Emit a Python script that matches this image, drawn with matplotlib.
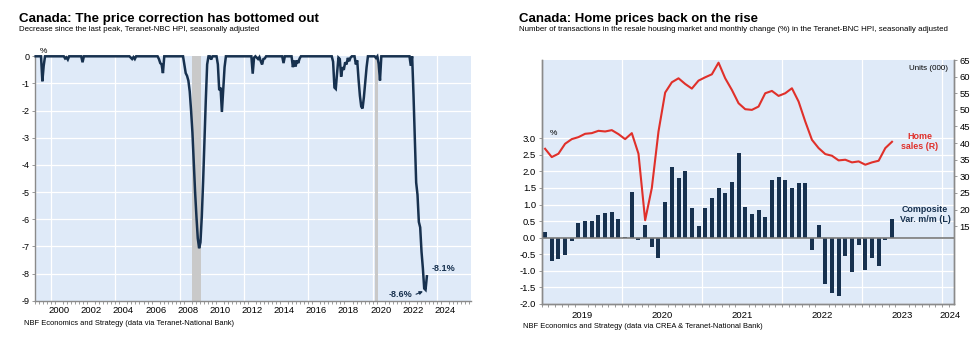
import matplotlib
matplotlib.use("Agg")
import matplotlib.pyplot as plt
import numpy as np

plt.rcParams["font.family"] = ["Liberation Sans", "DejaVu Sans"]

# ---- left chart: decrease since last peak (%), monthly Jan 1999 - May 2023
peak_drop = [
    [0, 0, 0, 0, 0, -0.92, -0.35, 0, 0, 0, 0, 0],                        # 1999
    [0, 0, 0, 0, 0, 0, 0, 0, 0, 0, -0.08, -0.04],                         # 2000
    [-0.12, 0, 0, 0, 0, 0, 0, 0, 0, 0, 0, -0.22],                         # 2001
    [0, 0, 0, 0, 0, 0, 0, 0, 0, 0, 0, 0],                                 # 2002
    [0, 0, 0, 0, 0, 0, 0, 0, 0, 0, 0, 0],                                 # 2003
    [0, 0, 0, 0, 0, 0, 0, 0, 0, 0, 0, -0.05],                             # 2004
    [-0.1, -0.03, -0.1, 0, 0, 0, 0, 0, 0, 0, 0, 0],                       # 2005
    [0, 0, 0, 0, 0, 0, 0, 0, -0.1, -0.25, -0.3, -0.62],                   # 2006
    [0, 0, 0, 0, 0, 0, 0, 0, 0, 0, 0, 0],                                 # 2007
    [0, 0, 0, -0.3, -0.62, -0.72, -0.9, -1.3, -2.0, -2.8, -3.9, -5.0],    # 2008
    [-5.9, -6.7, -7.07, -6.85, -5.9, -4.6, -3.1, -1.6, -0.3, 0, 0, -0.12],# 2009
    [0, 0, 0, 0, -0.3, -1.25, -1.15, -2.05, -1.2, -0.4, 0, 0],            # 2010
    [0, 0, 0, 0, 0, 0, 0, 0, 0, 0, 0, 0],                                 # 2011
    [0, 0, 0, 0, 0, 0, -0.64, -0.05, 0, -0.05, -0.1, -0.03],              # 2012
    [-0.18, -0.3, -0.1, -0.08, 0, 0, 0, 0, 0, 0, 0, 0],                   # 2013
    [0, 0, 0, 0, 0, -0.25, 0, 0, 0, 0, 0, 0],                             # 2014
    [-0.4, -0.15, -0.38, -0.15, -0.25, -0.08, 0, 0, 0, 0, 0, 0],          # 2015
    [0, 0, 0, 0, 0, 0, 0, 0, 0, 0, 0, 0],                                 # 2016
    [0, 0, 0, 0, 0, 0, -0.2, -1.15, -1.2, -0.6, -0.05, -0.1],             # 2017
    [-0.75, -0.4, -0.5, -0.22, -0.3, -0.06, -0.18, -0.05, 0, 0, 0, -0.3], # 2018
    [-0.15, -0.85, -1.45, -1.85, -1.92, -1.5, -0.95, -0.4, 0, 0, 0, 0],   # 2019
    [0, 0, -0.06, 0, -0.28, -0.89, 0, 0, 0, 0, 0, 0],                     # 2020
    [0, 0, 0, 0, 0, 0, 0, 0, 0, 0, 0, 0],                                 # 2021
    [0, 0, 0, 0, -0.35, 0, -1.4, -3.0, -4.65, -5.1, -6.1, -6.3],          # 2022
    [-7.2, -7.8, -8.55, -8.6, -8.1],                                      # 2023
]
recessions = [(2008.75, 2009.35), (2020.12, 2020.32)]

# ---- right chart: monthly Jan 2019 - May 2023
composite_mm = [0.18, -0.71, -0.64, -0.51, -0.11, 0.43, 0.51, 0.49, 0.69, 0.73, 0.79, 0.56,
                0.02, 1.37, -0.06, 0.39, -0.28, -0.61, 1.09, 2.12, 1.80, 2.02, 0.90, 0.35,
                0.90, 1.21, 1.50, 1.36, 1.69, 2.54, 0.93, 0.71, 0.85, 0.63, 1.73, 1.83,
                1.73, 1.50, 1.66, 1.66, -0.37, 0.39, -1.40, -1.67, -1.76, -0.54, -1.03, -0.22,
                -0.97, -0.62, -0.86, -0.08, 0.56]
home_sales = [38.3, 35.8, 36.8, 39.8, 41.2, 41.8, 42.8, 43.0, 43.7, 43.5, 43.9, 42.7,
              41.2, 43.0, 36.8, 16.8, 26.5, 43.5, 55.2, 58.3, 59.5, 57.8, 56.4, 58.8,
              59.8, 60.7, 64.2, 59.5, 56.0, 52.0, 50.2, 50.0, 51.0, 55.0, 55.7, 54.2,
              55.0, 56.5, 52.5, 46.5, 41.0, 38.5, 36.7, 36.2, 34.8, 35.0, 34.2, 34.5,
              33.5, 34.2, 34.7, 38.5, 40.4]

BG = "#dfeaf8"
NAVY = "#17314f"
RED = "#e0302a"
SPINE = "#8a8a8a"

fig = plt.figure(figsize=(9.8, 3.4), dpi=100)

# ================= left chart =================
vals = np.concatenate([np.array(v, dtype=float) for v in peak_drop])
t = 1999 + (np.arange(len(vals)) + 0.5) / 12

ax = fig.add_axes([0.0357, 0.1156, 0.4446, 0.7188])
ax.set_facecolor(BG)
ax.set_xlim(1999, 2026.1)
ax.set_ylim(-9, 0)
for y in range(-8, 0):
    ax.axhline(y, color="white", lw=0.9, zorder=1)
for x in range(2000, 2026, 4):
    ax.axvline(x, color="white", lw=0.9, zorder=1)
for a, b in recessions:
    ax.axvspan(a, b, color="#c9c9c9", lw=0, zorder=2)
ax.plot(t, vals, color=NAVY, lw=1.8, zorder=3, clip_on=False, solid_joinstyle="miter")

ax.set_yticks(range(-9, 1))
ax.set_yticklabels([str(v) for v in range(-9, 1)], fontsize=6.5)
ax.set_xticks([y + 0.5 for y in range(2000, 2025, 2)])
ax.set_xticklabels([str(y) for y in range(2000, 2025, 2)], fontsize=6.8)
ax.set_xticks(np.arange(1999, 2026.1, 0.25), minor=True)
ax.tick_params(axis="x", which="major", length=0, pad=4)
ax.tick_params(axis="x", which="minor", length=2, color=SPINE, width=0.6)
ax.tick_params(axis="y", length=2, color=SPINE, width=0.6, pad=2)
for s in ["top", "right"]:
    ax.spines[s].set_visible(False)
for s in ["left", "bottom"]:
    ax.spines[s].set_color(SPINE)
    ax.spines[s].set_linewidth(1.0)
ax.text(0.012, 1.005, "%", transform=ax.transAxes, fontsize=6, ha="left", va="bottom")

ax.annotate("", xy=(t[-2], vals[-2] - 0.02), xytext=(t[-2] - 0.75, vals[-2] - 0.2),
            arrowprops=dict(arrowstyle="-|>", color=NAVY, lw=0.8, mutation_scale=5), zorder=4)
ax.text(t[-2] - 0.85, vals[-2] - 0.18, "-8.6%", fontsize=6.5, fontweight="bold",
        color=NAVY, ha="right", va="center")
ax.text(t[-1] + 0.3, vals[-1] + 0.28, "-8.1%", fontsize=6.5, fontweight="bold",
        color=NAVY, ha="left", va="center")

fig.text(0.0194, 0.936, "Canada: The price correction has bottomed out",
         fontsize=9.6, fontweight="bold", va="baseline")
fig.text(0.0194, 0.909, "Decrease since the last peak, Teranet-NBC HPI, seasonally adjusted",
         fontsize=5.7, va="baseline")
fig.text(0.0245, 0.049, "NBF Economics and Strategy (data via Teranet-National Bank)",
         fontsize=5.4, va="center")

# ================= right chart =================
tm = 2019 + (np.arange(len(composite_mm)) + 0.5) / 12

axr = fig.add_axes([0.5528, 0.1059, 0.4207, 0.7176])
axr.set_facecolor(BG)
axr.set_xlim(2019, 2024.15)
axr.set_ylim(-2, 5.36)
for y in np.arange(-2, 3.01, 0.5):
    axr.axhline(y, color="white", lw=0.9, zorder=1)
for x in range(2020, 2025):
    axr.axvline(x, color="white", lw=0.9, zorder=1)
axr.bar(tm, composite_mm, width=0.05, color=NAVY, zorder=3)
axr.axhline(0, color="#7a7a7a", lw=1.2, zorder=4)

axr.set_yticks(np.arange(-2, 3.01, 0.5))
axr.set_yticklabels([f"{v:.1f}" for v in np.arange(-2, 3.01, 0.5)], fontsize=6.8)
lab_pos = [min(y + 0.5, 2024.1) for y in range(2019, 2025)]
axr.set_xticks(lab_pos)
axr.set_xticklabels([str(y) for y in range(2019, 2025)], fontsize=6.8)
axr.set_xticks(np.arange(2019, 2024.15, 1 / 12), minor=True)
axr.tick_params(axis="x", which="major", length=0, pad=5)
axr.tick_params(axis="x", which="minor", length=2, color=SPINE, width=0.6)
axr.tick_params(axis="y", length=2, color=SPINE, width=0.6, pad=2)
axr.text(0.02, 0.985 - (5.36 - 3.25) / 7.36, "%", transform=axr.transAxes, fontsize=6,
         ha="left", va="center")

ax2 = axr.twinx()
ax2.set_ylim(-8.4, 65)
ax2.plot(tm, home_sales, color=RED, lw=1.5, zorder=3)
ax2.set_yticks(range(15, 66, 5))
ax2.set_yticklabels([str(v) for v in range(15, 66, 5)], fontsize=6.8)
ax2.tick_params(axis="y", length=2, color=SPINE, width=0.6, pad=2)
for a in (axr, ax2):
    a.spines["top"].set_visible(False)
    for s in ["left", "bottom", "right"]:
        a.spines[s].set_color(SPINE)
        a.spines[s].set_linewidth(1.0)
ax2.text(0.985, 0.965, "Units (000)", transform=ax2.transAxes, fontsize=5.8,
         ha="right", va="center")
ax2.text(2023.72, 40.5, "Home\nsales (R)", color=RED, fontsize=6.4, fontweight="bold",
         ha="center", va="center", linespacing=1.2)
axr.text(2023.79, 0.7, "Composite\nVar. m/m (L)", color=NAVY, fontsize=6.4,
         fontweight="bold", ha="center", va="center", linespacing=1.2)

fig.text(0.5296, 0.936, "Canada: Home prices back on the rise",
         fontsize=9.5, fontweight="bold", va="baseline")
fig.text(0.5296, 0.909, "Number of transactions in the resale housing market and monthly "
         "change (%) in the Teranet-BNC HPI, seasonally adjusted", fontsize=5.7, va="baseline")
fig.text(0.534, 0.039, "NBF Economics and Strategy (data via CREA & Teranet-National Bank)",
         fontsize=5.4, va="center")

fig.savefig("out.png", dpi=100)
plt.close(fig)
